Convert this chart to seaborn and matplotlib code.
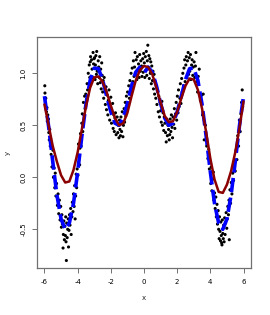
import numpy as np
import pandas as pd
import matplotlib
matplotlib.use("Agg")
import matplotlib.pyplot as plt
import seaborn as sns

# ---------------- data ----------------
curve_x = [-6.0, -5.75, -5.5, -5.25, -5.0, -4.75, -4.5, -4.25, -4.0, -3.75, -3.5, -3.25,
           -3.0, -2.75, -2.5, -2.25, -2.0, -1.75, -1.5, -1.25, -1.0, -0.75, -0.5, -0.25,
           0.0, 0.25, 0.5, 0.75, 1.0, 1.25, 1.5, 1.75, 2.0, 2.25, 2.5, 2.75,
           3.0, 3.25, 3.5, 3.75, 4.0, 4.25, 4.5, 4.75, 5.0, 5.25, 5.5, 5.75, 6.0]

# blue dashed curve
true_y = [0.78, 0.49, 0.15, -0.17, -0.40, -0.50, -0.44, -0.25, 0.05, 0.39, 0.70, 0.93,
          1.05, 1.045, 0.94, 0.78, 0.63, 0.52, 0.50, 0.57, 0.71, 0.88, 1.01, 1.06,
          1.00, 1.06, 1.01, 0.88, 0.71, 0.57, 0.50, 0.52, 0.63, 0.78, 0.94, 1.045,
          1.05, 0.93, 0.70, 0.39, 0.05, -0.25, -0.44, -0.50, -0.40, -0.17, 0.15, 0.49, 0.78]

# dark red smooth fit
fit_y = [0.70, 0.50, 0.30, 0.15, 0.02, -0.05, -0.04, 0.07, 0.24, 0.46, 0.68, 0.86,
         0.96, 0.97, 0.92, 0.82, 0.69, 0.57, 0.50, 0.52, 0.62, 0.78, 0.93, 1.03,
         1.07, 1.06, 0.99, 0.86, 0.72, 0.59, 0.53, 0.54, 0.63, 0.76, 0.88, 0.95,
         0.94, 0.84, 0.66, 0.43, 0.18, -0.02, -0.14, -0.15, -0.07, 0.06, 0.24, 0.47, 0.73]

pts_x = [
    -5.98, -5.97, -5.95, -5.92, -5.88, -5.85, -5.83, -5.80, -5.76, -5.74, -5.71, -5.68, -5.65,
    -5.63, -5.60, -5.57, -5.55, -5.52, -5.49, -5.46, -5.42, -5.38, -5.35, -5.31, -5.27, -5.22,
    -5.18, -5.14, -5.10, -5.06, -5.02, -4.98, -4.95, -4.92, -4.88, -4.86, -4.83, -4.80, -4.77,
    -4.74, -4.72, -4.70, -4.68, -4.66, -4.63, -4.60, -4.57, -4.55, -4.52, -4.49,
    -4.46, -4.42, -4.39, -4.35, -4.32, -4.28, -4.25, -4.21, -4.18, -4.15, -4.12, -4.09, -4.06,
    -4.03, -3.98, -3.95, -3.92, -3.88, -3.86, -3.83, -3.79, -3.75, -3.72, -3.69, -3.65, -3.62,
    -3.58, -3.55, -3.51, -3.47, -3.43, -3.40, -3.36, -3.33, -3.30, -3.27, -3.24, -3.22, -3.19,
    -3.16, -3.13, -3.10, -3.07, -3.04, -3.01,
    -2.98, -2.95, -2.93, -2.90, -2.87, -2.85, -2.82, -2.79, -2.76, -2.73, -2.70, -2.67, -2.64,
    -2.61, -2.58, -2.55, -2.52, -2.49, -2.46, -2.43, -2.40, -2.36, -2.33, -2.29, -2.26, -2.22,
    -2.18, -2.15, -2.11, -2.07, -2.04, -2.00, -1.96, -1.93, -1.89, -1.86, -1.82, -1.79, -1.75,
    -1.72, -1.68, -1.65, -1.62, -1.58, -1.55, -1.51, -1.48, -1.45, -1.42,
    -1.39, -1.35, -1.31, -1.27, -1.24, -1.20, -1.17, -1.13, -1.10, -1.06, -1.03, -0.99, -0.96,
    -0.92, -0.88, -0.85, -0.81, -0.78, -0.74, -0.71, -0.67, -0.64, -0.60, -0.57, -0.54, -0.50,
    -0.47, -0.43, -0.40, -0.36, -0.33, -0.29, -0.26, -0.22, -0.19, -0.15, -0.12, -0.08, -0.05,
    -0.02,
    0.02, 0.05, 0.08, 0.11, 0.14, 0.17, 0.20, 0.23, 0.26, 0.29, 0.32, 0.35, 0.38, 0.41, 0.44,
    0.47, 0.51, 0.54, 0.57, 0.61, 0.64, 0.68, 0.71, 0.75, 0.78, 0.82, 0.86, 0.89, 0.93, 0.97,
    1.00, 1.04, 1.08, 1.11, 1.15, 1.19, 1.22, 1.26, 1.30, 1.34, 1.37, 1.41, 1.44, 1.48,
    1.52, 1.55, 1.58, 1.62, 1.65, 1.69, 1.72, 1.75, 1.79, 1.83, 1.86, 1.90, 1.94, 1.97, 2.01,
    2.05, 2.08, 2.12, 2.16, 2.19, 2.23, 2.27, 2.30, 2.34, 2.38, 2.41, 2.45, 2.48, 2.52, 2.55,
    2.59, 2.62, 2.66, 2.69, 2.73, 2.76, 2.80, 2.83, 2.87, 2.90, 2.94, 2.97,
    3.02, 3.06, 3.10, 3.13, 3.18, 3.23, 3.27, 3.33, 3.40, 3.47, 3.53, 3.57, 3.63, 3.70, 3.78,
    3.85, 3.90, 3.94, 3.98, 4.02, 4.05, 4.09, 4.13, 4.18, 4.21, 4.25, 4.29, 4.33, 4.36, 4.40,
    4.43, 4.47, 4.50,
    4.53, 4.55, 4.58, 4.61, 4.63, 4.66, 4.68, 4.70, 4.72, 4.75, 4.78, 4.80, 4.83, 4.86, 4.89,
    4.92, 4.95, 4.99, 5.02, 5.05, 5.09, 5.12, 5.14, 5.18, 5.22, 5.26, 5.30, 5.35, 5.40, 5.45,
    5.50, 5.55, 5.60, 5.65, 5.70, 5.75, 5.80, 5.84, 5.88, 5.92, 5.95,
]
pts_y = [
    0.88, 0.81, 0.70, 0.76, 0.63, 0.67, 0.54, 0.60, 0.56, 0.43, 0.36, 0.46, 0.30,
    0.37, 0.22, 0.29, 0.10, 0.19, 0.26, 0.00, 0.09, -0.10, 0.04, -0.18, -0.06, -0.27,
    -0.16, -0.35, -0.22, -0.41, -0.28, -0.48, -0.36, -0.45, -0.68, -0.55, -0.42, -0.60, -0.47,
    -0.56, -0.38, -0.62, -0.80, -0.44, -0.58, -0.50, -0.40, -0.67, -0.51, -0.36,
    -0.46, -0.30, -0.55, -0.38, -0.24, -0.33, -0.16, -0.28, -0.08, -0.40, -0.18, 0.03, -0.10,
    0.08, 0.02, 0.32, 0.20, 0.12, 0.28, 0.42, 0.30, 0.52, 0.61, 0.44, 0.72, 0.60,
    0.78, 0.66, 0.80, 0.75, 0.90, 0.84, 1.00, 0.90, 1.08, 0.96, 1.11, 1.16, 0.97,
    1.13, 1.04, 0.96, 1.20, 1.09, 1.14,
    1.15, 0.94, 1.08, 1.17, 0.99, 1.21, 1.02, 0.90, 1.12, 1.06, 0.96, 1.16, 0.91,
    1.04, 0.85, 1.10, 0.98, 0.82, 0.93, 0.76, 0.96, 0.86, 0.70, 0.87, 0.65, 0.79,
    0.60, 0.74, 0.84, 0.55, 0.68, 0.77, 0.52, 0.63, 0.71, 0.47, 0.60, 0.44, 0.57,
    0.62, 0.41, 0.52, 0.58, 0.43, 0.50, 0.38, 0.55, 0.46, 0.40,
    0.58, 0.44, 0.63, 0.39, 0.50, 0.66, 0.53, 0.72, 0.59, 0.78, 0.64, 0.82, 0.70,
    0.88, 0.76, 0.93, 0.82, 1.00, 0.86, 1.05, 0.92, 1.12, 0.97, 1.06, 1.20, 0.99,
    1.13, 0.94, 1.16, 1.03, 1.09, 0.96, 1.18, 1.02, 1.12, 1.07, 0.97, 1.14, 1.01,
    1.19,
    1.10, 0.96, 1.16, 1.03, 1.21, 0.98, 1.12, 1.27, 1.05, 1.17, 0.95, 1.14, 1.00, 1.11, 0.90,
    1.07, 0.93, 1.02, 0.85, 0.99, 0.80, 0.92, 0.76, 0.88, 0.70, 0.83, 0.63, 0.78, 0.58, 0.72,
    0.64, 0.53, 0.73, 0.50, 0.62, 0.45, 0.58, 0.52, 0.43, 0.34, 0.56, 0.40, 0.50, 0.46,
    0.36, 0.41, 0.56, 0.44, 0.60, 0.48, 0.38, 0.58, 0.51, 0.66, 0.47, 0.61, 0.72, 0.55, 0.78,
    0.62, 0.84, 0.68, 0.76, 0.90, 0.71, 0.95, 0.82, 1.00, 0.88, 1.05, 1.13, 0.92, 1.08, 1.16,
    0.96, 1.12, 1.20, 0.99, 1.15, 1.02, 1.18, 0.94, 1.08, 1.13, 0.98, 1.06,
    1.11, 0.96, 1.07, 1.20, 0.92, 0.82, 0.97, 1.04, 0.74, 0.79, 0.60, 0.80, 0.36, 0.50, 0.30,
    0.18, 0.27, 0.08, 0.15, -0.06, 0.10, -0.13, -0.02, 0.05, -0.22, -0.15, -0.30, -0.19, -0.38,
    -0.26, -0.45, -0.32, -0.50,
    -0.59, -0.38, -0.52, -0.61, -0.43, -0.56, -0.63, -0.65, -0.41, -0.54, -0.59, -0.46, -0.62,
    -0.39, -0.55, -0.44, -0.34, -0.49, -0.40, -0.28, -0.36, -0.22, -0.60, -0.12, -0.25, -0.05,
    -0.16, 0.04, -0.03, 0.14, 0.06, 0.26, 0.17, 0.40, 0.30, 0.55, 0.44, 0.61, 0.72, 0.84, 0.68,
]

x_ticks = [-6, -4, -2, 0, 2, 4, 6]
y_ticks = [-0.5, 0.0, 0.5, 1.0]

pts = pd.DataFrame({"x": pts_x, "y": pts_y})
curves = pd.DataFrame({"x": curve_x, "true": true_y, "fit": fit_y})

# ---------------- figure ----------------
sns.set_theme(style="white")
plt.rcParams["font.family"] = ["DejaVu Sans"]

fig = plt.figure(figsize=(2.70, 3.15), dpi=100)
ax = fig.add_axes([37 / 270, 1 - 268 / 315, (251 - 37) / 270, (268 - 37) / 315])

sns.scatterplot(data=pts, x="x", y="y", ax=ax, color="black", s=5,
                linewidth=0, edgecolor="none", zorder=2)
sns.lineplot(data=curves, x="x", y="true", ax=ax, color="#0000ff", linewidth=2.6,
             sort=False, estimator=None, zorder=3)
ax.lines[-1].set_dashes([4.0, 1.5])
ax.lines[-1].set_dash_capstyle("butt")
sns.lineplot(data=curves, x="x", y="fit", ax=ax, color="#8b0000", linewidth=1.8,
             sort=False, estimator=None, zorder=4)

ax.set_xlim(-6.45, 6.45)
ax.set_ylim(-0.872, 1.349)
ax.set_xticks(x_ticks)
ax.set_xticklabels([str(t) for t in x_ticks])
ax.set_yticks(y_ticks)
ax.set_yticklabels(["-0.5", "0.0", "0.5", "1.0"], rotation=90, va="center")

for sp in ax.spines.values():
    sp.set_visible(True)
    sp.set_color("#707070")
    sp.set_linewidth(0.9)

ax.tick_params(axis="both", direction="out", length=3.6, width=0.7, color="#707070",
               labelsize=5, labelcolor="black", bottom=True, left=True)
ax.tick_params(axis="x", pad=4.5)
ax.tick_params(axis="y", pad=4.0)

ax.set_xlabel("x", fontsize=5, labelpad=7)
ax.set_ylabel("y", fontsize=5, labelpad=7)
ax.grid(False)

fig.savefig("out.png", dpi=100, facecolor="white")
